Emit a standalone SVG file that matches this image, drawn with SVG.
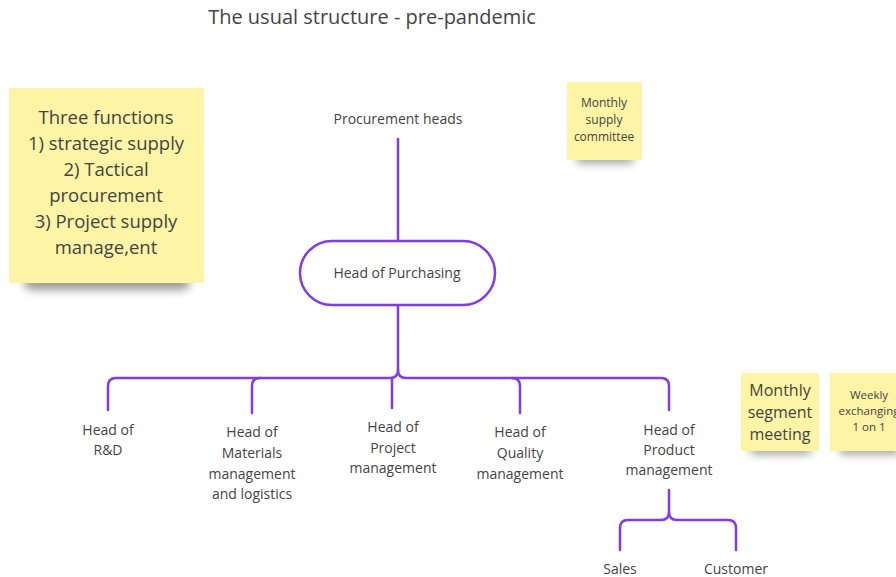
<svg xmlns="http://www.w3.org/2000/svg" width="896" height="577" viewBox="0 0 896 577">
  <defs>
    <filter id="soft" x="-30%" y="-80%" width="160%" height="260%">
      <feGaussianBlur stdDeviation="5"/>
    </filter>
    <style>
      text { font-family: "Open Sans", "DejaVu Sans", sans-serif; fill: #444444; text-anchor: middle; }
      .title { font-size: 20px; }
      .lbl { font-size: 14px; }
      .note { fill: #fdf4a6; }
      .shadow { fill: #000; opacity: 0.4; filter: url(#soft); }
      .wire { fill: none; stroke: #8239f0; stroke-width: 2.5; stroke-linecap: round; stroke-linejoin: round; }
    </style>
  </defs>

  <rect width="896" height="577" fill="#ffffff"/>

  <text class="title" x="372" y="24">The usual structure - pre-pandemic</text>

  <!-- sticky notes -->
  <g id="note-functions">
    <rect class="shadow" x="24" y="274" width="166" height="16" rx="8"/>
    <rect class="note" x="9" y="88" width="195" height="195"/>
    <text x="106" y="124" style="font-size:18.5px">Three functions</text>
    <text x="106" y="150" style="font-size:18.5px">1) strategic supply</text>
    <text x="106" y="176" style="font-size:18.5px">2) Tactical</text>
    <text x="106" y="202" style="font-size:18.5px">procurement</text>
    <text x="106" y="228" style="font-size:18.5px">3) Project supply</text>
    <text x="106" y="254" style="font-size:18.5px">manage,ent</text>
  </g>

  <g id="note-supply-committee">
    <rect class="shadow" x="576" y="153" width="58" height="10" rx="5"/>
    <rect class="note" x="567" y="82" width="75" height="78"/>
    <text x="604" y="107" style="font-size:12px">Monthly</text>
    <text x="604" y="124" style="font-size:12px">supply</text>
    <text x="604" y="141" style="font-size:12px">committee</text>
  </g>

  <g id="note-segment-meeting">
    <rect class="shadow" x="750" y="444" width="62" height="10" rx="5"/>
    <rect class="note" x="741" y="373" width="78" height="78"/>
    <text x="780" y="396" style="font-size:16px">Monthly</text>
    <text x="780" y="418" style="font-size:16px">segment</text>
    <text x="780" y="440" style="font-size:16px">meeting</text>
  </g>

  <g id="note-weekly">
    <rect class="shadow" x="839" y="444" width="62" height="10" rx="5"/>
    <rect class="note" x="830" y="373" width="78" height="78"/>
    <text x="869" y="399" style="font-size:11.5px">Weekly</text>
    <text x="869" y="415" style="font-size:11.5px">exchanging</text>
    <text x="869" y="431" style="font-size:11.5px">1 on 1</text>
  </g>

  <!-- connectors -->
  <g id="connectors" class="wire">
    <path d="M398,139 V241"/>
    <path d="M398,305 V370"/>
    <path d="M398,370 Q398,378 390,378 H116 Q108,378 108,386 V410"/>
    <path d="M398,370 Q398,378 406,378 H661 Q669,378 669,386 V410"/>
    <path d="M252,413 V386 Q252,378 260,378"/>
    <path d="M392,378 V408"/>
    <path d="M520,413 V386 Q520,378 512,378"/>
    <path d="M669,490 V512 Q669,520 661,520 H628 Q620,520 620,528 V550"/>
    <path d="M669,512 Q669,520 677,520 H728 Q736,520 736,528 V550"/>
  </g>

  <!-- nodes -->
  <g id="procurement-heads">
    <text class="lbl" x="398" y="124">Procurement heads</text>
  </g>

  <g id="head-of-purchasing">
    <rect x="300" y="241" width="195" height="64" rx="32" fill="#ffffff" stroke="#8239f0" stroke-width="2.5"/>
    <text class="lbl" x="397" y="278">Head of Purchasing</text>
  </g>

  <g id="head-rd">
    <text class="lbl" x="108" y="435">Head of</text>
    <text class="lbl" x="108" y="455">R&amp;D</text>
  </g>

  <g id="head-materials">
    <text class="lbl" x="252" y="437">Head of</text>
    <text class="lbl" x="252" y="458">Materials</text>
    <text class="lbl" x="252" y="479">management</text>
    <text class="lbl" x="252" y="499">and logistics</text>
  </g>

  <g id="head-project">
    <text class="lbl" x="393" y="432">Head of</text>
    <text class="lbl" x="393" y="453">Project</text>
    <text class="lbl" x="393" y="473">management</text>
  </g>

  <g id="head-quality">
    <text class="lbl" x="520" y="437">Head of</text>
    <text class="lbl" x="520" y="458">Quality</text>
    <text class="lbl" x="520" y="479">management</text>
  </g>

  <g id="head-product">
    <text class="lbl" x="669" y="435">Head of</text>
    <text class="lbl" x="669" y="455">Product</text>
    <text class="lbl" x="669" y="475">management</text>
  </g>

  <g id="sales">
    <text class="lbl" x="620" y="574">Sales</text>
  </g>

  <g id="customer">
    <text class="lbl" x="736" y="574">Customer</text>
  </g>
</svg>
